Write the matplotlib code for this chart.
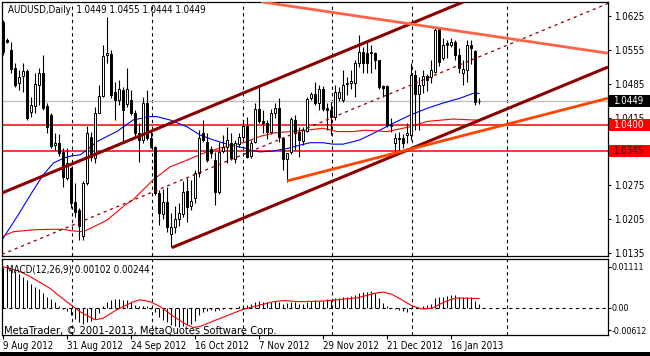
import matplotlib
matplotlib.use("Agg")
import matplotlib.pyplot as plt
from matplotlib.patches import Rectangle
from matplotlib.transforms import blended_transform_factory
import numpy as np

plt.rcParams['font.family'] = ['DejaVu Sans']
plt.rcParams['font.stretch'] = 'condensed'

# ---------------- data ----------------
SYMBOL = "AUDUSD,Daily"
OPEN = [1.0613, 1.0575, 1.0555, 1.0518, 1.0486, 1.0501, 1.0511, 1.0427, 1.0439, 1.0482,
        1.0507, 1.0439, 1.0420, 1.0359, 1.0363, 1.0344, 1.0290, 1.0311, 1.0240, 1.0224,
        1.0170, 1.0280, 1.0375, 1.0331, 1.0424, 1.0460, 1.0545, 1.0547, 1.0468, 1.0451,
        1.0472, 1.0444, 1.0451, 1.0424, 1.0383, 1.0369, 1.0445, 1.0373, 1.0354, 1.0259,
        1.0216, 1.0240, 1.0174, 1.0189, 1.0205, 1.0216, 1.0263, 1.0232, 1.0249, 1.0300,
        1.0383, 1.0365, 1.0350, 1.0327, 1.0261, 1.0346, 1.0354, 1.0363, 1.0329, 1.0361,
        1.0375, 1.0398, 1.0335, 1.0365, 1.0433, 1.0408, 1.0404, 1.0385, 1.0424, 1.0435,
        1.0373, 1.0329, 1.0344, 1.0410, 1.0385, 1.0367, 1.0387, 1.0455, 1.0464, 1.0445,
        1.0474, 1.0435, 1.0431, 1.0416, 1.0455, 1.0451, 1.0484, 1.0486, 1.0486, 1.0528,
        1.0551, 1.0549, 1.0549, 1.0549, 1.0534, 1.0480, 1.0480, 1.0398, 1.0363, 1.0373,
        1.0373, 1.0379, 1.0379, 1.0503, 1.0464, 1.0482, 1.0501, 1.0499, 1.0509, 1.0598,
        1.0538, 1.0569, 1.0565, 1.0571, 1.0544, 1.0507, 1.0513, 1.0565, 1.0553, 1.0449]
HIGH = [1.0617, 1.0579, 1.0571, 1.0528, 1.0513, 1.0528, 1.0515, 1.0458, 1.0507, 1.0518,
        1.0544, 1.0445, 1.0424, 1.0383, 1.0381, 1.0352, 1.0352, 1.0313, 1.0280, 1.0228,
        1.0284, 1.0398, 1.0385, 1.0437, 1.0482, 1.0565, 1.0623, 1.0555, 1.0488, 1.0492,
        1.0478, 1.0517, 1.0472, 1.0431, 1.0404, 1.0458, 1.0472, 1.0390, 1.0356, 1.0265,
        1.0267, 1.0271, 1.0218, 1.0232, 1.0238, 1.0284, 1.0290, 1.0286, 1.0307, 1.0390,
        1.0410, 1.0383, 1.0356, 1.0344, 1.0365, 1.0379, 1.0396, 1.0383, 1.0369, 1.0383,
        1.0410, 1.0416, 1.0369, 1.0445, 1.0478, 1.0431, 1.0410, 1.0433, 1.0445, 1.0456,
        1.0375, 1.0342, 1.0416, 1.0420, 1.0396, 1.0396, 1.0458, 1.0468, 1.0489, 1.0482,
        1.0480, 1.0445, 1.0447, 1.0482, 1.0478, 1.0513, 1.0499, 1.0513, 1.0534, 1.0586,
        1.0561, 1.0575, 1.0565, 1.0551, 1.0534, 1.0482, 1.0482, 1.0414, 1.0383, 1.0385,
        1.0381, 1.0404, 1.0528, 1.0513, 1.0499, 1.0513, 1.0505, 1.0534, 1.0602, 1.0602,
        1.0579, 1.0575, 1.0579, 1.0575, 1.0559, 1.0534, 1.0575, 1.0575, 1.0555, 1.0455]
LOW = [1.0545, 1.0570, 1.0508, 1.0478, 1.0472, 1.0468, 1.0410, 1.0416, 1.0424, 1.0441,
       1.0431, 1.0383, 1.0352, 1.0348, 1.0335, 1.0271, 1.0286, 1.0228, 1.0209, 1.0162,
       1.0162, 1.0276, 1.0325, 1.0321, 1.0424, 1.0458, 1.0528, 1.0455, 1.0410, 1.0441,
       1.0365, 1.0437, 1.0420, 1.0375, 1.0323, 1.0362, 1.0369, 1.0352, 1.0255, 1.0193,
       1.0205, 1.0178, 1.0147, 1.0176, 1.0191, 1.0209, 1.0199, 1.0224, 1.0238, 1.0292,
       1.0365, 1.0323, 1.0331, 1.0234, 1.0257, 1.0342, 1.0321, 1.0327, 1.0321, 1.0354,
       1.0369, 1.0331, 1.0331, 1.0363, 1.0404, 1.0383, 1.0371, 1.0381, 1.0414, 1.0365,
       1.0307, 1.0282, 1.0340, 1.0348, 1.0333, 1.0358, 1.0385, 1.0451, 1.0441, 1.0431,
       1.0429, 1.0389, 1.0379, 1.0410, 1.0449, 1.0447, 1.0461, 1.0474, 1.0457, 1.0519,
       1.0507, 1.0507, 1.0507, 1.0515, 1.0474, 1.0457, 1.0396, 1.0385, 1.0342, 1.0344,
       1.0352, 1.0363, 1.0369, 1.0389, 1.0389, 1.0466, 1.0470, 1.0486, 1.0507, 1.0521,
       1.0534, 1.0538, 1.0561, 1.0534, 1.0507, 1.0482, 1.0488, 1.0525, 1.0441, 1.0444]
CLOSE = [1.0551, 1.0572, 1.0516, 1.0482, 1.0499, 1.0511, 1.0414, 1.0441, 1.0484, 1.0507,
         1.0435, 1.0395, 1.0356, 1.0363, 1.0342, 1.0292, 1.0321, 1.0238, 1.0220, 1.0191,
         1.0280, 1.0383, 1.0334, 1.0424, 1.0460, 1.0542, 1.0549, 1.0462, 1.0451, 1.0474,
         1.0431, 1.0474, 1.0424, 1.0383, 1.0369, 1.0445, 1.0373, 1.0354, 1.0259, 1.0218,
         1.0240, 1.0189, 1.0189, 1.0205, 1.0218, 1.0261, 1.0230, 1.0242, 1.0300, 1.0373,
         1.0369, 1.0327, 1.0342, 1.0261, 1.0344, 1.0354, 1.0369, 1.0331, 1.0363, 1.0375,
         1.0398, 1.0333, 1.0363, 1.0433, 1.0408, 1.0404, 1.0385, 1.0424, 1.0435, 1.0375,
         1.0329, 1.0342, 1.0412, 1.0383, 1.0369, 1.0389, 1.0453, 1.0464, 1.0445, 1.0474,
         1.0433, 1.0431, 1.0416, 1.0468, 1.0468, 1.0482, 1.0486, 1.0491, 1.0528, 1.0551,
         1.0528, 1.0528, 1.0551, 1.0534, 1.0478, 1.0476, 1.0400, 1.0400, 1.0373, 1.0371,
         1.0363, 1.0383, 1.0503, 1.0464, 1.0482, 1.0501, 1.0493, 1.0513, 1.0596, 1.0530,
         1.0565, 1.0565, 1.0571, 1.0544, 1.0517, 1.0515, 1.0565, 1.0559, 1.0447, 1.0449]

# moving averages (sampled along the curves)
MA_FAST_BAR = [0, 3.5, 7.6, 10, 12.6, 15.1, 17.2, 19.3, 21, 23.4, 26, 28.4, 30.5, 32.5, 36.75,
               38.4, 41.75, 46, 49.25, 52.5, 56.75, 60.5, 61.75, 64.25, 67.6, 71, 74.25,
               76.75, 80, 82.5, 85, 87.5, 89.25, 93.5, 97.5, 101.75, 106, 110, 114.25, 117.5, 119]
MA_FAST = [1.0165, 1.0210, 1.0265, 1.0296, 1.0321, 1.0331, 1.0336, 1.0338, 1.0348, 1.0365,
           1.0376, 1.0386, 1.0398, 1.0410, 1.0417, 1.0417, 1.0410, 1.0396, 1.0379, 1.0369,
           1.0358, 1.0352, 1.0348, 1.0344, 1.0346, 1.0351, 1.0358, 1.0363, 1.0363, 1.0360,
           1.0360, 1.0365, 1.0369, 1.0386, 1.0403, 1.0420, 1.0434, 1.0445, 1.0455, 1.0465, 1.0465]
MA_SLOW_BAR = [0, 2.6, 7.6, 11.75, 15, 17.2, 20, 22.6, 26, 30.5, 32.5, 37.5, 41.75, 46, 50,
               54.25, 60.5, 64.25, 67.6, 71.75, 76, 80, 83.5, 87.5, 90.5, 96, 101.75, 106,
               112.5, 117.5, 119]
MA_SLOW = [1.0170, 1.0179, 1.0183, 1.0184, 1.0184, 1.0181, 1.0179, 1.0189, 1.0203, 1.0234,
           1.0245, 1.0286, 1.0313, 1.0327, 1.0341, 1.0352, 1.0364, 1.0376, 1.0383, 1.0386,
           1.0389, 1.0393, 1.0386, 1.0386, 1.0389, 1.0386, 1.0396, 1.0407, 1.0412, 1.0410, 1.0410]

GREY_LEVEL = 1.0449
RED_LEVELS = [1.0400, 1.0345]

CHANNEL_UPPER = [(0, 1.0260), (104.25, 1.0617)]
CHANNEL_MID = [(0, 1.0133), (104.25, 1.0490)]
CHANNEL_LOWER_START = (42.2, 1.0146)
RESISTANCE = [(67.2, 1.0651), (151.25, 1.0548)]
SUPPORT = [(71, 1.0284), (151.25, 1.0455)]

MACD_HIST = [0.0111, 0.0110, 0.0105, 0.0098, 0.0090, 0.0083, 0.0075, 0.0065, 0.0055, 0.0050,
             0.0040, 0.0030, 0.0022, 0.0015, 0.0005, -0.0003, -0.0008, -0.0020, -0.0030, -0.0040,
             -0.0045, -0.0040, -0.0035, -0.0030, -0.0015, 0.0005, 0.0015, 0.0020, 0.0022, 0.0022,
             0.0020, 0.0020, 0.0015, 0.0008, 0.0003, 0.0005, 0.0003, -0.0003, -0.0012, -0.0025,
             -0.0033, -0.0040, -0.0047, -0.0050, -0.0052, -0.0050, -0.0048, -0.0045, -0.0035, -0.0020,
             -0.0012, -0.0008, -0.0006, -0.0010, -0.0006, -0.0004, -0.0002, -0.0003, 0.0000, 0.0003,
             0.0006, 0.0008, 0.0010, 0.0015, 0.0018, 0.0016, 0.0014, 0.0016, 0.0018, 0.0015,
             0.0010, 0.0012, 0.0016, 0.0014, 0.0010, 0.0010, 0.0015, 0.0018, 0.0020, 0.0018,
             0.0018, 0.0022, 0.0020, 0.0025, 0.0025, 0.0028, 0.0030, 0.0032, 0.0035, 0.0040,
             0.0042, 0.0043, 0.0045, 0.0040, 0.0025, 0.0012, 0.0003, 0.0000, -0.0003, -0.0006,
             -0.0010, -0.0012, -0.0005, 0.0000, -0.0002, 0.0003, 0.0008, 0.0010, 0.0025, 0.0028,
             0.0030, 0.0032, 0.0033, 0.0033, 0.0030, 0.0028, 0.0030, 0.0030, 0.0018, 0.00102]
SIGNAL_BAR = [0, 4.25, 7.6, 11.75, 15.9, 19.25, 23, 25, 28.4, 32.6, 34.25, 36.75, 39.25, 42.6,
              46, 47.6, 49.25, 53.4, 57.6, 60, 64.25, 67.6, 70, 74.25, 80.5, 88.8, 93, 95,
              97.2, 99.7, 102.2, 104.7, 107.2, 109.7, 112.2, 113.8, 119]
SIGNAL = [0.0111, 0.0098, 0.0079, 0.0052, 0.0016, -0.0011, -0.0033, -0.0029, -0.0006, 0.0016,
          0.0021, 0.0016, 0.0003, -0.0024, -0.0047, -0.0054, -0.0051, -0.0033, -0.0015, -0.0005,
          0.0007, 0.0016, 0.0019, 0.0016, 0.0018, 0.0027, 0.0039, 0.0042, 0.0036, 0.0021,
          0.0005, -0.0004, -0.0002, 0.0012, 0.0023, 0.0026, 0.00244]

DATE_BARS = [0, 16, 32, 48, 64, 80, 96, 112]
DATE_LABELS = ["9 Aug 2012", "31 Aug 2012", "24 Sep 2012", "16 Oct 2012",
               "7 Nov 2012", "29 Nov 2012", "21 Dec 2012", "16 Jan 2013"]
GRID_BARS = [17.25, 37.25, 60, 82.25, 102.25, 126]
PRICE_TICKS = [1.0625, 1.0555, 1.0485, 1.0415, 1.0345, 1.0275, 1.0205, 1.0135]
MACD_TICKS = [0.01111, 0.0, -0.00612]
MACD_TICK_LABELS = ["0.01111", "0.00", "-0.00612"]

# ---------------- figure ----------------
W, H = 650, 356
fig = plt.figure(figsize=(W / 100, H / 100), dpi=100)
fig.patch.set_facecolor('white')

def px_box(left, top, right, bottom):
    return [left / W, (H - bottom) / H, (right - left) / W, (bottom - top) / H]

ax = fig.add_axes(px_box(2, 2, 608, 256))
ax2 = fig.add_axes(px_box(2, 259, 608, 335))

XL = (-0.25, 151.25)
FS = 7

bars = np.arange(len(CLOSE))
o = np.array(OPEN); c = np.array(CLOSE); hi = np.array(HIGH); lo = np.array(LOW)

# horizontal levels
ax.axhline(GREY_LEVEL, color='#C0C0C0', lw=1.0, zorder=1)
for lv in RED_LEVELS:
    ax.axhline(lv, color='#FF0000', lw=1.1, zorder=1)

# grid
for a in (ax, ax2):
    for g in GRID_BARS:
        a.axvline(g, color='black', lw=0.8, ls=(0, (3, 3)), zorder=0.5)

# moving averages
ax.plot(MA_FAST_BAR, MA_FAST, color='#0000FF', lw=0.8, zorder=2)
ax.plot(MA_SLOW_BAR, MA_SLOW, color='#FF0000', lw=0.8, zorder=2)

# candles
ax.vlines(bars, lo, hi, color='black', lw=0.8, zorder=3)
up = c >= o
ax.bar(bars[up], (c - o)[up], bottom=o[up], width=0.5, color='white',
       edgecolor='black', lw=0.7, zorder=4)
ax.bar(bars[~up], (o - c)[~up], bottom=c[~up], width=0.5, color='black',
       edgecolor='black', lw=0.7, zorder=4)

# trend lines / channel
ax.axline(CHANNEL_UPPER[0], CHANNEL_UPPER[1], color='#8B0000', lw=2.2, zorder=5)
ax.axline(CHANNEL_MID[0], CHANNEL_MID[1], color='#8B0000', lw=0.9, ls=(0, (2.5, 3)), zorder=5)
slope = (CHANNEL_UPPER[1][1] - CHANNEL_UPPER[0][1]) / (CHANNEL_UPPER[1][0] - CHANNEL_UPPER[0][0])
x0, y0 = CHANNEL_LOWER_START
ax.plot([x0, XL[1]], [y0, y0 + slope * (XL[1] - x0)], color='#8B0000', lw=2.2, zorder=5,
        solid_capstyle='butt')
ax.axline(RESISTANCE[0], RESISTANCE[1], color='#FF6347', lw=2.0, zorder=5)
ax.plot([p[0] for p in SUPPORT], [p[1] for p in SUPPORT], color='#FF4500', lw=2.0, zorder=5,
        solid_capstyle='butt')

ax.set_xlim(*XL)
ax.set_ylim(1.01288, 1.06539)
ax.set_xticks([])
ax.yaxis.tick_right()
ax.set_yticks(PRICE_TICKS)
ax.set_yticklabels([f"{t:.4f}" for t in PRICE_TICKS], fontsize=FS)
ax.tick_params(axis='y', direction='out', length=2.5, width=0.8, pad=1.5)

# price label boxes
tr = blended_transform_factory(ax.transAxes, ax.transData)
hh = 0.00124
for val, fc, tc in [(GREY_LEVEL, 'black', 'white'), (RED_LEVELS[0], '#FF0000', 'white'),
                    (RED_LEVELS[1], '#FF0000', '#202020')]:
    ax.add_patch(Rectangle((1.0017, val - hh), 0.075, 2 * hh, transform=tr, facecolor=fc,
                           edgecolor='none', clip_on=False, zorder=20))
    ax.text(1.0017 + 4 / 606, val, f"{val:.4f}", transform=tr, color=tc, fontsize=FS,
            va='center', ha='left', zorder=21, clip_on=False)

ax.text(6 / 606, 1 - 8 / 254,
        f"{SYMBOL}  {OPEN[-1]:.4f} {HIGH[-1]:.4f} {LOW[-1]:.4f} {CLOSE[-1]:.4f}",
        transform=ax.transAxes, fontsize=FS, va='center', ha='left', zorder=30)

# MACD
ax2.axhline(0, color='black', lw=0.8, ls=(0, (3, 3)), zorder=0.5)
ax2.vlines(bars, 0, MACD_HIST, color='black', lw=0.75, zorder=2)
ax2.plot(SIGNAL_BAR, SIGNAL, color='#FF0000', lw=0.8, zorder=3)
ax2.set_xlim(*XL)
ax2.set_ylim(-0.00743, 0.01317)
ax2.yaxis.tick_right()
ax2.set_yticks(MACD_TICKS)
ax2.set_yticklabels(MACD_TICK_LABELS, fontsize=6.3)
ax2.tick_params(axis='y', direction='out', length=2.0, width=0.8, pad=0.8)
ax2.set_xticks(DATE_BARS)
ax2.set_xticklabels(DATE_LABELS, fontsize=FS, ha='left')
ax2.tick_params(axis='x', direction='out', length=3, width=0.8, pad=1.5)
ax2.text(4 / 606, 1 - 11 / 76, f"MACD(12,26,9) {MACD_HIST[-1]:.5f} {SIGNAL[-1]:.5f}",
         transform=ax2.transAxes, fontsize=FS, va='center', ha='left', zorder=30)
ax2.text(2 / 606, 1 - 72 / 76, "MetaTrader, \u00a9 2001-2013, MetaQuotes Software Corp.",
         transform=ax2.transAxes, fontsize=8, va='center', ha='left', zorder=30)

for a in (ax, ax2):
    for s in a.spines.values():
        s.set_linewidth(0.9)
        s.set_color('black')

# window frame
fig.add_artist(Rectangle((0, 0), 1, 4 / H, transform=fig.transFigure, facecolor='black',
                         edgecolor='none'))

fig.savefig("out.png", dpi=100, facecolor='white')
